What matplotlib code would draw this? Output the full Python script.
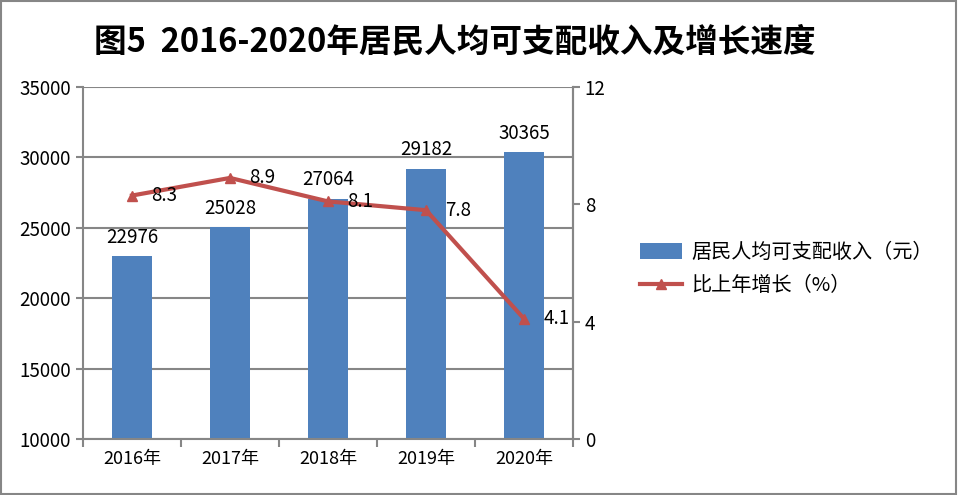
import matplotlib.pyplot as plt
import numpy as np
from matplotlib.patches import Rectangle

plt.rcParams['font.family'] = ['Noto Sans CJK SC', 'DejaVu Sans']

years = ['2016年', '2017年', '2018年', '2019年', '2020年']
income = [22976, 25028, 27064, 29182, 30365]
growth = [8.3, 8.9, 8.1, 7.8, 4.1]

blue = '#4F81BD'
red = '#C0504D'
gray = '#868686'

fig = plt.figure(figsize=(9.58, 4.95), dpi=100)
ax = fig.add_axes([83 / 958, 1 - 439 / 495, 490 / 958, 352 / 495])
x = np.arange(len(years))

ax.bar(x, income, width=0.41, color=blue, zorder=2, label='居民人均可支配收入（元）')
ax.set_ylim(10000, 35000)
ax.set_yticks(range(10000, 35001, 5000))
ax.set_xlim(-0.5, 4.5)
ax.set_xticks(x)
ax.set_xticklabels(years, fontsize=13)
ax.set_xticks(np.arange(-0.5, 5, 1), minor=True)
ax.tick_params(axis='x', which='major', length=0, pad=8)
ax.tick_params(axis='x', which='minor', length=6, color=gray, width=1.5)
ax.tick_params(axis='y', labelsize=13.5, length=5, color=gray, width=1.5)
ax.grid(axis='y', color=gray, linewidth=1.5, zorder=0)
for s in ax.spines.values():
    s.set_color(gray)
    s.set_linewidth(1.5)
ax.spines['top'].set_visible(False)

for xi, v in zip(x, income):
    ax.text(xi, v + 600, str(v), ha='center', va='bottom', fontsize=13.5)

ax2 = ax.twinx()
ax2.plot(x, growth, color=red, linewidth=3, marker='^', markersize=7, zorder=3,
         label='比上年增长（%）')
ax2.set_ylim(0, 12)
ax2.set_yticks([0, 4, 8, 12])
ax2.tick_params(axis='y', labelsize=13.5, length=5, color=gray, width=1.5)
for s in ax2.spines.values():
    s.set_visible(False)
ax2.spines['right'].set_visible(True)
ax2.spines['right'].set_color(gray)
ax2.spines['right'].set_linewidth(1.5)

for xi, g in zip(x, growth):
    ax2.text(xi + 0.2, g, str(g), ha='left', va='center', fontsize=13.5)

h1, l1 = ax.get_legend_handles_labels()
h2, l2 = ax2.get_legend_handles_labels()
fig.legend(h1 + h2, l1 + l2, loc='center left', bbox_to_anchor=(622 / 958, 1 - 269 / 495),
           frameon=False, fontsize=14.5, handlelength=2.1, handleheight=0.8,
           labelspacing=0.6, handletextpad=0.45)

fig.text(455 / 958, 1 - 42 / 495, '图5  2016-2020年居民人均可支配收入及增长速度',
         ha='center', va='center', fontsize=23.5, fontweight='bold')

fig.patches.append(Rectangle((0.001, 0.002), 0.997, 0.996, transform=fig.transFigure,
                             fill=False, edgecolor=gray, linewidth=1.5))

fig.savefig('out.png', dpi=100)
